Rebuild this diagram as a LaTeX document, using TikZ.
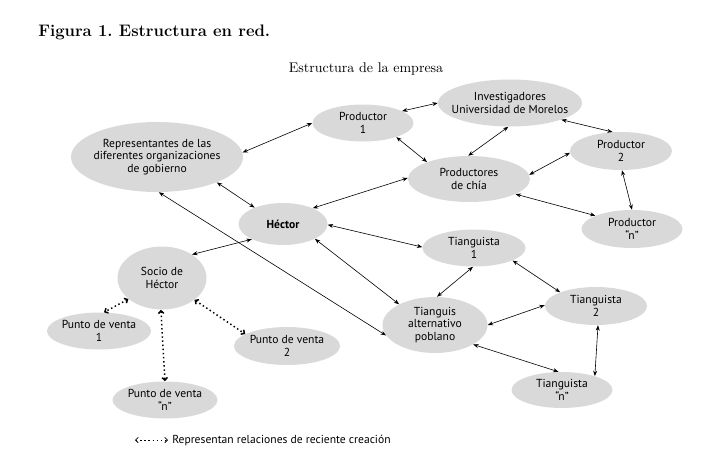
\documentclass[tikz,border=0pt]{standalone}
\usepackage{fontspec}
\setsansfont{PT Sans}
\usetikzlibrary{shapes.geometric,arrows.meta}

\tikzset{actor/.style={ellipse,fill=gray!30,inner xsep=-80pt,inner ysep=-30pt,align=center,font=\sffamily\fontsize{8.7}{9.6}\selectfont},
  sz/.style 2 args={minimum width=0.75pt*#1,minimum height=0.75pt*#2},
  link/.style={{Stealth[length=4pt,width=3pt]}-{Stealth[length=4pt,width=3pt]},line width=0.45pt},
  newlink/.style={{Straight Barb[length=2pt,width=4pt]}-{Straight Barb[length=2pt,width=4pt]},line width=1.1pt,dotted}}

\begin{document}
\frenchspacing
\begin{tikzpicture}[x=0.75pt,y=-0.75pt]
\useasboundingbox (0,0) rectangle (713,468);
\node[anchor=base west,inner sep=0pt,font=\bfseries\fontsize{12.5}{14}\selectfont] (titulo) at (38,36) {Figura 1. Estructura en red.};
\node[anchor=base,inner sep=0pt,font=\fontsize{10.5}{12}\selectfont] (subtitulo) at (366,72) {Estructura de la empresa};

% actores
\node[actor,sz={172}{70}] (gobierno) at (157,157) {Representantes de las\\diferentes organizaciones\\de gobierno};
\node[actor,sz={101}{37}] (prod1) at (363,123) {Productor\\1};
\node[actor,sz={144}{47}] (invest) at (510,103) {Investigadores\\Universidad de Morelos};
\node[actor,sz={102}{38}] (prod2) at (621,151) {Productor\\2};
\node[actor,sz={122}{46}] (chia) at (469,179) {Productores\\de chía};
\node[actor,sz={101}{38}] (prodn) at (632,229) {Productor\\“n”};
\node[actor,sz={89}{42},font=\sffamily\bfseries\fontsize{8.7}{9.6}\selectfont] (hector) at (283,224) {Héctor};
\node[actor,sz={103}{37}] (tiang1) at (474,248) {Tianguista\\1};
\node[actor,sz={105}{56}] (tianguis) at (435,325) {Tianguis\\alternativo\\poblano};
\node[actor,sz={102}{38}] (tiang2) at (596,306) {Tianguista\\2};
\node[actor,sz={101}{36}] (tiangn) at (562,390) {Tianguista\\“n”};
\node[actor,sz={89}{63}] (socio) at (162,278) {Socio de\\Héctor};
\node[actor,sz={104}{37}] (venta1) at (99,331) {Punto de venta\\1};
\node[actor,sz={106}{38}] (venta2) at (287,346) {Punto de venta\\2};
\node[actor,sz={105}{37}] (ventan) at (165,400) {Punto de venta\\“n”};

% relaciones
\draw[link] (gobierno.3) -- (prod1.180);
\draw[link] (gobierno.-23) -- (hector.150);
\draw[link] (gobierno.-87) -- (tianguis.192);
\draw[link] (prod1.17) -- (invest.180);
\draw[link] (prod1.-23) -- (chia.158);
\draw[link] (invest.-94) -- (chia.92);
\draw[link] (invest.-18) -- (prod2.114);
\draw[link] (chia.4) -- (prod2.182);
\draw[link] (chia.-18) -- (prodn.160);
\draw[link] (prod2.-87) -- (prodn.90);
\draw[link] (chia.179) -- (hector.28);
\draw[link] (hector.-1) -- (tiang1.179);
\draw[link] (hector.-25) -- (tianguis.150);
\draw[link] (hector.206) -- (socio.38);
\draw[link] (tiang1.-93) -- (tianguis.86);
\draw[link] (tiang1.-18) -- (tiang2.159);
\draw[link] (tianguis.0) -- (tiang2.179);
\draw[link] (tianguis.-27) -- (tiangn.101);
\draw[link] (tiang2.-84) -- (tiangn.23);
\draw[newlink] (socio.212) -- (venta1.75);
\draw[newlink] (socio.-34) -- (venta2.164);
\draw[newlink] (socio.-92) -- (ventan.90);

% leyenda
\coordinate (ley1) at (135,440);
\coordinate (ley2) at (168,440);
\draw[newlink,line width=0.6pt] (ley1) -- (ley2);
\node[anchor=west,inner sep=0pt,font=\sffamily\fontsize{8.7}{10}\selectfont] (leyenda) at (172,440) {Representan relaciones de reciente creación};
\end{tikzpicture}
\end{document}
